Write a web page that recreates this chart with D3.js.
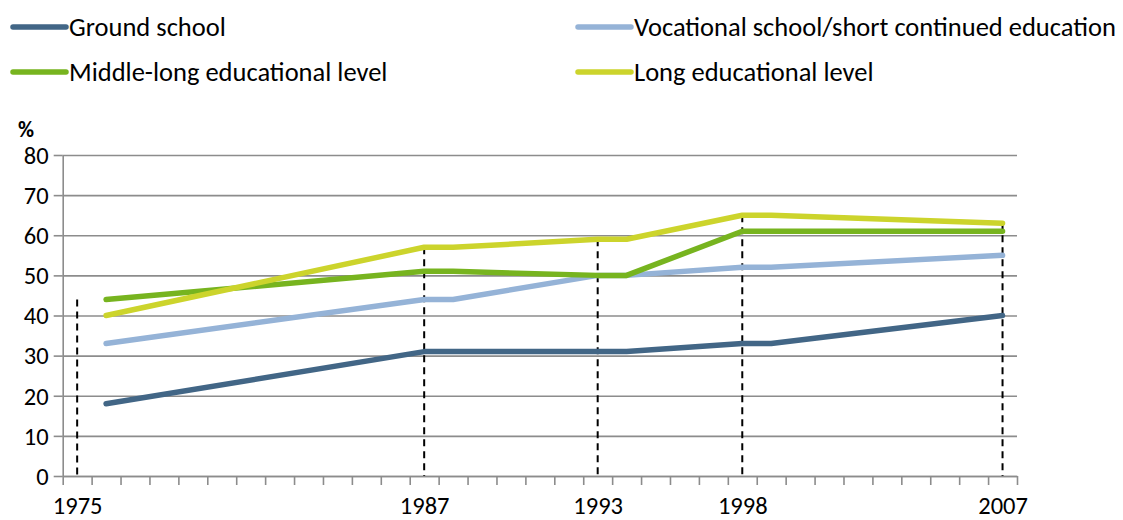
<!DOCTYPE html>
<html>
<head>
<meta charset="utf-8">
<script src="https://cdn.jsdelivr.net/npm/d3@7"></script>
<style>
  body { margin: 0; background: #fff; }
  #chart { width: 1123px; height: 520px; }
  text { font-family: Carlito, Calibri, Lato, sans-serif; fill: #000; }
</style>
</head>
<body>
<div id="chart"></div>
<script>
// Data
var years = [1976, 1987, 1988, 1993, 1994, 1998, 1999, 2007];
var groundSchool = [18, 31, 31, 31, 31, 33, 33, 40];
var vocational = [33, 44, 44, 50, 50, 52, 52, 55];
var middleLong = [44, 51, 51, 50, 50, 61, 61, 61];
var longEducation = [40, 57, 57, 59, 59, 65, 65, 63];

var seriesNames = ["Ground school", "Vocational school/short continued education",
                   "Middle-long educational level", "Long educational level"];
var seriesColors = ["#426686", "#95b3d7", "#77b41f", "#ccd42c"];

// labelled years on the x axis and the height of the dashed drop lines there
var labelYears = [1975, 1987, 1993, 1998, 2007];
var dropTops = [44, 57, 59, 65, 63];
var yTicks = [0, 10, 20, 30, 40, 50, 60, 70, 80];
var firstYear = 1975, lastYear = 2007;

var W = 1123, H = 520;
var plot = {left: 62.7, right: 1017, top: 155, bottom: 476};

var svg = d3.select("#chart").append("svg")
    .attr("width", W)
    .attr("height", H);

// one category per year, points sit in the middle of each slot
var x = d3.scaleLinear()
    .domain([firstYear - 0.5, lastYear + 0.5])
    .range([plot.left, plot.right]);
var y = d3.scaleLinear()
    .domain([0, 80])
    .range([plot.bottom, plot.top]);

// gridlines
svg.append("g")
    .attr("transform", "translate(" + plot.left + ",0)")
    .call(d3.axisLeft(y).tickValues(yTicks).tickSize(-(plot.right - plot.left)).tickFormat(""))
    .call(function(g) { g.select(".domain").remove(); })
    .selectAll("line")
    .attr("stroke", "#8c8c8c")
    .attr("stroke-width", 1.6);

// y axis with outside ticks
var yAxis = svg.append("g")
    .attr("transform", "translate(" + plot.left + ",0)")
    .call(d3.axisLeft(y).tickValues(yTicks).tickSize(9).tickPadding(5).tickSizeOuter(0));
yAxis.select(".domain").attr("stroke", "#8c8c8c").attr("stroke-width", 1.6);
yAxis.selectAll("line").attr("stroke", "#8c8c8c").attr("stroke-width", 1.6);
yAxis.selectAll("text").style("font-size", "24.5px").attr("dy", "0.34em");

// x axis: tick marks between every year
var boundaries = d3.range(firstYear - 0.5, lastYear + 1, 1);
var xAxis = svg.append("g")
    .attr("transform", "translate(0," + plot.bottom + ")")
    .call(d3.axisBottom(x).tickValues(boundaries).tickSize(9).tickFormat("").tickSizeOuter(0));
xAxis.select(".domain").attr("stroke", "#8c8c8c").attr("stroke-width", 1.6);
xAxis.selectAll("line").attr("stroke", "#8c8c8c").attr("stroke-width", 1.6);

// x labels only on the survey years
var xLabels = svg.append("g")
    .attr("transform", "translate(0," + plot.bottom + ")")
    .call(d3.axisBottom(x).tickValues(labelYears).tickSize(0).tickPadding(21).tickFormat(d3.format("d")));
xLabels.select(".domain").remove();
xLabels.selectAll("text").style("font-size", "24.5px");

// dashed drop lines
svg.append("g")
    .selectAll("line")
    .data(labelYears)
    .enter()
    .append("line")
    .attr("x1", function(d) { return x(d); })
    .attr("x2", function(d) { return x(d); })
    .attr("y1", function(d, i) { return y(dropTops[i]); })
    .attr("y2", y(0))
    .attr("stroke", "#000")
    .attr("stroke-width", 2)
    .attr("stroke-dasharray", "7,5");

// series lines
var allSeries = [groundSchool, vocational, middleLong, longEducation];
var line = d3.line()
    .x(function(d, i) { return x(years[i]); })
    .y(function(d) { return y(d); });

svg.append("g")
    .selectAll("path")
    .data(allSeries)
    .enter()
    .append("path")
    .attr("d", line)
    .attr("fill", "none")
    .attr("stroke", function(d, i) { return seriesColors[i]; })
    .attr("stroke-width", 5.5)
    .attr("stroke-linecap", "round")
    .attr("stroke-linejoin", "round");

// "%" unit label
svg.append("text")
    .attr("x", 26)
    .attr("y", 137)
    .attr("text-anchor", "middle")
    .style("font-size", "22px")
    .style("font-weight", "bold")
    .text("%");

// legend, two columns
var legendPos = [[12, 27], [577, 27], [12, 72], [577, 72]];
var legend = svg.append("g")
    .selectAll("g")
    .data(seriesNames)
    .enter()
    .append("g")
    .attr("transform", function(d, i) { return "translate(" + legendPos[i][0] + "," + legendPos[i][1] + ")"; });

legend.append("line")
    .attr("x1", 1).attr("x2", 54)
    .attr("y1", 0).attr("y2", 0)
    .attr("stroke", function(d, i) { return seriesColors[i]; })
    .attr("stroke-width", 5.5)
    .attr("stroke-linecap", "round");

legend.append("text")
    .attr("x", 57)
    .attr("y", 0)
    .attr("dy", "0.35em")
    .style("font-size", "26.5px")
    .text(function(d) { return d; });
</script>
</body>
</html>
